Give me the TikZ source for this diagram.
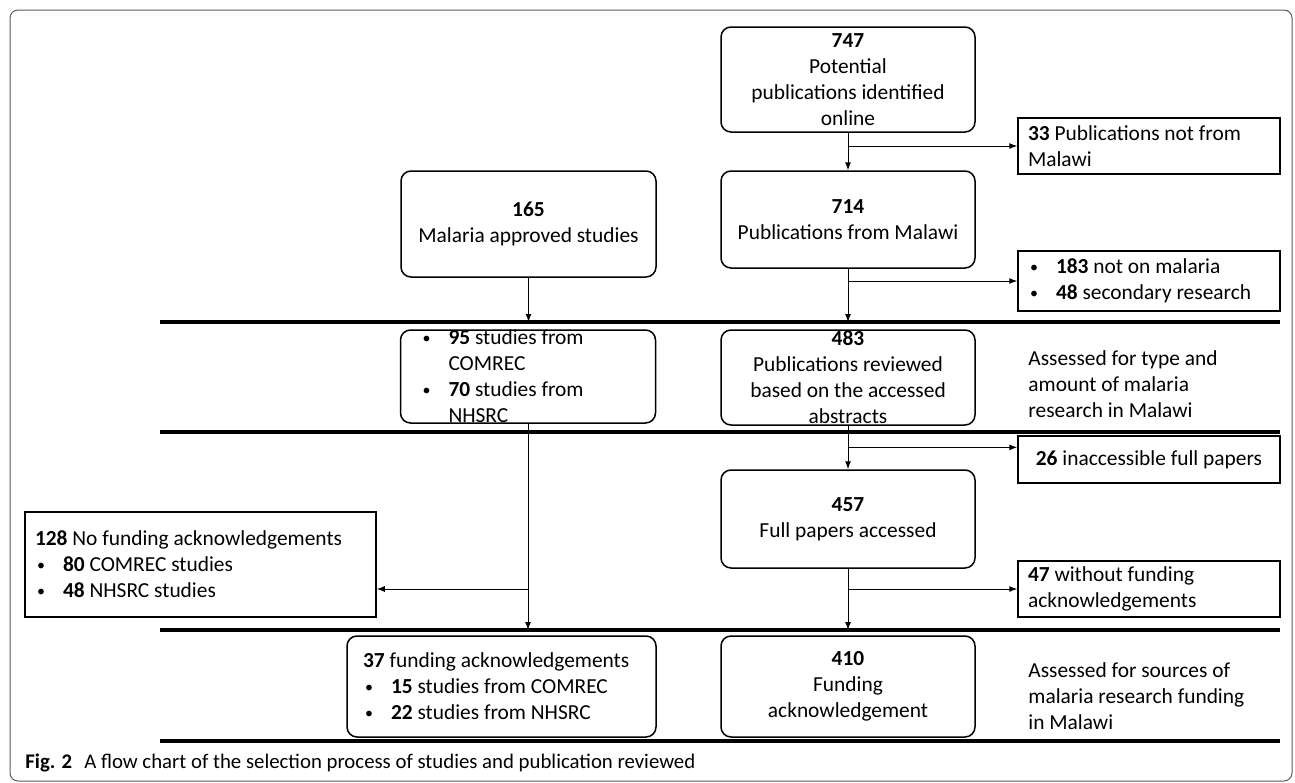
\documentclass[tikz,border=0pt]{standalone}
\usepackage{fontspec}
\setmainfont{Carlito}
\usetikzlibrary{arrows.meta,positioning,calc}

\tikzset{
  rbox/.style={draw, rounded corners=5pt, line width=0.75pt, minimum width=127pt, align=center, inner xsep=0pt, inner ysep=0pt},
  sbox/.style={draw, line width=0.75pt, minimum width=131pt, text width=121pt, align=flush left, inner xsep=5pt, inner ysep=0pt},
  arr/.style={-{Latex[length=4pt,width=3pt]}, line width=0.5pt},
  bar/.style={line width=2pt},
  side/.style={anchor=west, align=left, inner sep=0pt},
}
\newcommand{\bul}{\makebox[14pt][l]{\hspace{1pt}\raisebox{0.6pt}{\fontsize{8}{8}\selectfont\textbullet}}}

\begin{document}
\begin{tikzpicture}[x=0.5pt,y=-0.5pt,font=\fontsize{10.7}{13}\selectfont]
        \useasboundingbox (0,0) rectangle (1295,782);
        \draw[gray!70!black, line width=0.5pt, rounded corners=4pt] (10,10) rectangle (1292,781);

        % horizontal bars
        \foreach \y/\n in {322/1,432/2,630/3,741/4} {
            \draw[bar] (160,\y) -- (1280,\y);
            \coordinate (bar\n) at (160,\y);
        }

        % first stage
        \node[rbox, minimum height=52.5pt] (n747) at (848,79.5) {\textbf{747}\\Potential\\publications identified\\online};
        \node[sbox, minimum height=28pt] (n33) at (1149,146) {\textbf{33} Publications not from\\Malawi};
        \node[rbox, minimum width=127.5pt, minimum height=53pt] (n165) at (528.5,224) {\textbf{165}\\Malaria approved studies};
        \node[rbox, minimum height=48.5pt] (n714) at (848,219.5) {\textbf{714}\\Publications from Malawi};
        \node[sbox, minimum height=30pt] (n183) at (1149,281) {\bul\textbf{183} not on malaria\\\bul\textbf{48} secondary research};

        % second stage
        \node[rbox, minimum height=46.5pt, text width=107.5pt, inner xsep=10pt, align=flush left, inner ysep=-4pt] (n95) at (528,376.5)
            {\bul\textbf{95} studies from\\\hspace*{14pt}COMREC\\\bul\textbf{70} studies from\\\hspace*{14pt}NHSRC};
        \node[rbox, minimum height=47.5pt, inner ysep=-4pt] (n483) at (848,377.5) {\textbf{483}\\Publications reviewed\\based on the accessed\\abstracts};
        \node[side] (s1) at (1028,384) {Assessed for type and\\amount of malaria\\research in Malawi};
        \node[sbox, minimum height=23.5pt, align=flush center] (n26) at (1149,459.5) {\textbf{26} inaccessible full papers};
        \node[rbox, minimum height=49pt] (n457) at (848,519) {\textbf{457}\\Full papers accessed};
        \node[sbox, minimum width=175.5pt, text width=165.5pt, minimum height=52.5pt] (n128) at (200.5,564.5)
            {\textbf{128} No funding acknowledgements\\\bul\textbf{80} COMREC studies\\\bul\textbf{48} NHSRC studies};
        \node[sbox, minimum height=28pt] (n47) at (1149,589) {\textbf{47} without funding\\acknowledgements};

        % third stage
        \node[rbox, minimum width=154.5pt, text width=138.5pt, inner xsep=8pt, align=flush left, minimum height=50.5pt] (n37) at (501.5,686.5)
            {\textbf{37} funding acknowledgements\\\bul\textbf{15} studies from COMREC\\\bul\textbf{22} studies from NHSRC};
        \node[rbox, minimum height=50.5pt] (n410) at (848,686.5) {\textbf{410}\\Funding\\acknowledgement};
        \node[side] (s2) at (1028,696) {Assessed for sources of\\malaria research funding\\in Malawi};

        \node[anchor=west, inner sep=0pt, font=\fontsize{10.4}{12}\selectfont] (cap) at (25,763)
            {\textbf{Fig. 2}\hspace{6pt}A flow chart of the selection process of studies and publication reviewed};

        % connectors
        \coordinate (j26) at ($(n26.north west)!.25!(n26.south west)$);
        \coordinate (j128) at ($(n128.north east)!.73!(n128.south east)$);
        \draw[arr] (n747) -- (n714);
        \draw[arr] (n747.south |- n33.west) -- (n33.west);
        \draw[arr] (n714) -- (n714 |- bar1);
        \draw[arr] (n714.south |- n183.west) -- (n183.west);
        \draw[arr] (n165) -- (n165 |- bar1);
        \draw[arr] (n483) -- (n457);
        \draw[arr] (n483.south |- j26) -- (j26);
        \draw[arr] (n95) -- (n95 |- bar3);
        \draw[arr] (n95.south |- j128) -- (j128);
        \draw[arr] (n457) -- (n457 |- bar3);
        \draw[arr] (n457.south |- n47.west) -- (n47.west);
    \end{tikzpicture}
\end{document}
